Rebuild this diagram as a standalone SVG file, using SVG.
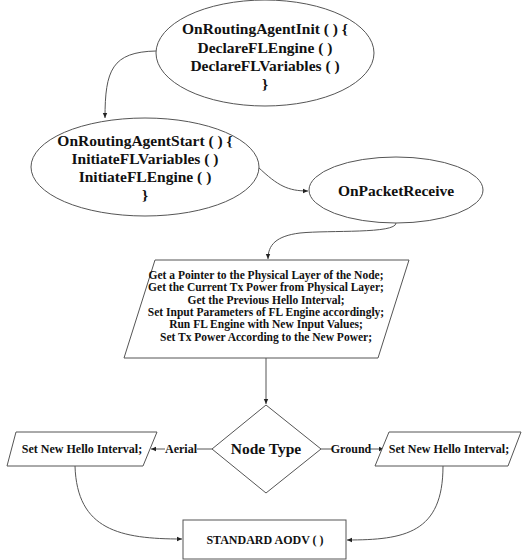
<svg xmlns="http://www.w3.org/2000/svg" width="522" height="560" viewBox="0 0 522 560">
<defs>
<marker id="arr" markerWidth="6" markerHeight="6" refX="5" refY="3" orient="auto" markerUnits="userSpaceOnUse">
<path d="M0,0.8 L5,3 L0,5.2 Z" fill="#222"/>
</marker>
<style>
.shape{fill:#fff;stroke:#555;stroke-width:1}
.t{font-family:'Liberation Serif','Times New Roman',serif;font-weight:bold;fill:#111;text-anchor:middle}
.big{font-size:15.5px}
.small{font-size:11.5px}
.mid{font-size:12px}
.con{fill:none;stroke:#555;stroke-width:1}
</style>
</defs>
<rect width="522" height="560" fill="#fff"/>
<g id="connectors">
<path class="con" d="M156,51 C112,52 105,70 105,118" marker-end="url(#arr)"/>
<path class="con" d="M258,167 C278,186 288,191 308,191" marker-end="url(#arr)"/>
<path class="con" d="M396,223 C396,234 330,230 300,233 C276,236 268,245 268,259" marker-end="url(#arr)"/>
<path class="con" d="M266,358 L266,404" marker-end="url(#arr)"/>
<path class="con" d="M212,449 L197,449"/>
<path class="con" d="M165,449 L151,449" marker-end="url(#arr)"/>
<path class="con" d="M321,449 L332,449"/>
<path class="con" d="M370,449 L384,449" marker-end="url(#arr)"/>
<path class="con" d="M75,466 C77,530 120,539 182,539" marker-end="url(#arr)"/>
<path class="con" d="M443,466 C443,533 405,540 347,540" marker-end="url(#arr)"/>
<text class="t mid" x="181" y="453">Aerial</text>
<text class="t mid" x="351" y="453">Ground</text>
</g>
<g id="init">
<ellipse class="shape" cx="265" cy="53" rx="109" ry="53"/>
<text class="t big" x="265" y="34">OnRoutingAgentInit ( ) {</text>
<text class="t big" x="265" y="53">DeclareFLEngine ( )</text>
<text class="t big" x="265" y="71">DeclareFLVariables ( )</text>
<text class="t big" x="265" y="89">}</text>
</g>
<g id="start">
<ellipse class="shape" cx="145" cy="167" rx="114" ry="49"/>
<text class="t big" x="145" y="146">OnRoutingAgentStart ( ) {</text>
<text class="t big" x="145" y="164">InitiateFLVariables ( )</text>
<text class="t big" x="145" y="182">InitiateFLEngine ( )</text>
<text class="t big" x="145" y="200">}</text>
</g>
<g id="receive">
<ellipse class="shape" cx="396" cy="190" rx="87" ry="33"/>
<text class="t big" x="396" y="196">OnPacketReceive</text>
</g>
<g id="process">
<polygon class="shape" points="155,260 409,260 378,358 124,358"/>
<text class="t small" x="266" y="279">Get a Pointer to the Physical Layer of the Node;</text>
<text class="t small" x="266" y="291.3">Get the Current Tx Power from Physical Layer;</text>
<text class="t small" x="266" y="303.6">Get the Previous Hello Interval;</text>
<text class="t small" x="266" y="315.9">Set Input Parameters of FL Engine accordingly;</text>
<text class="t small" x="266" y="328.2">Run FL Engine with New Input Values;</text>
<text class="t small" x="266" y="340.5">Set Tx Power According to the New Power;</text>
</g>
<g id="nodetype">
<polygon class="shape" points="266,405 321,449 266,493 212,449"/>
<text class="t big" x="266" y="454">Node Type</text>
</g>
<g id="aerial">
<polygon class="shape" points="16,432 157,432 143,466 7,466"/>
<text class="t mid" x="82" y="453">Set New Hello Interval;</text>
</g>
<g id="ground">
<polygon class="shape" points="389,432 521,432 508,466 375,466"/>
<text class="t mid" x="449" y="453">Set New Hello Interval;</text>
</g>
<g id="aodv">
<rect class="shape" x="183" y="520" width="163" height="39"/>
<text class="t mid" x="265" y="544">STANDARD AODV ( )</text>
</g>
</svg>
